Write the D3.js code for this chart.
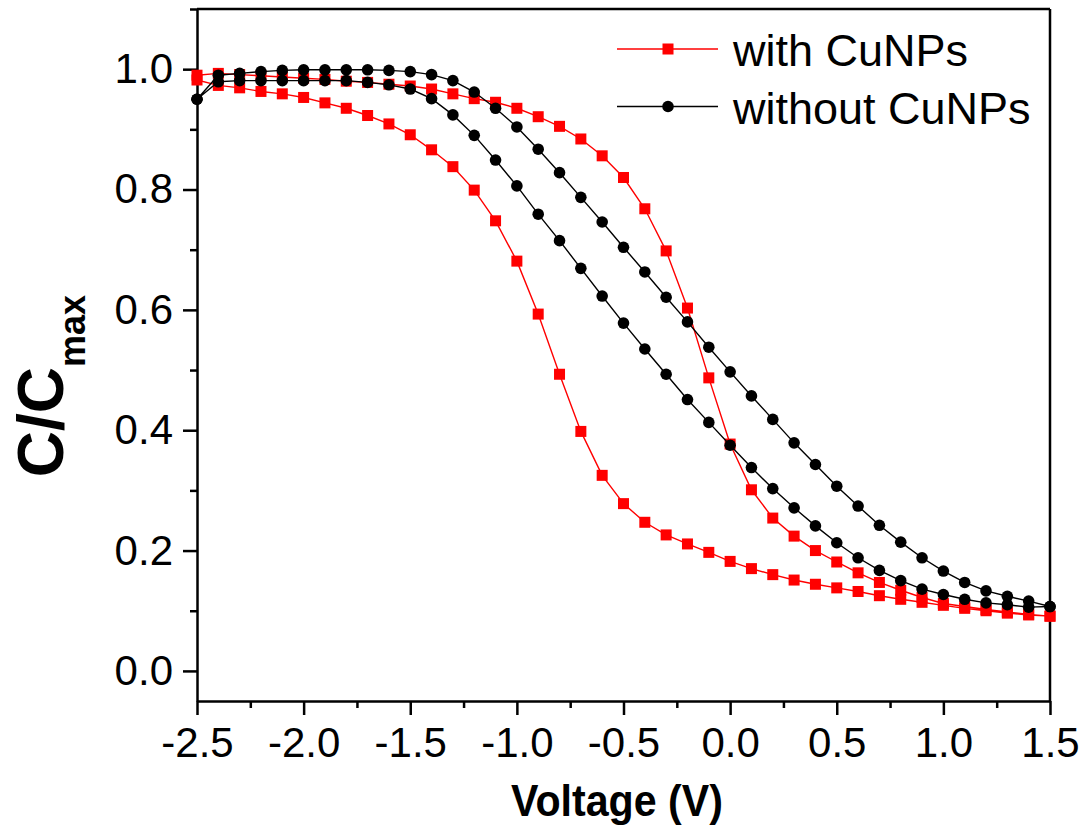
<!DOCTYPE html>
<html lang="en">

<head>
    <meta charset="UTF-8">
    <title>C/Cmax vs Voltage</title>
    <style>
        body { margin: 0; background: #fff; }
        svg text { font-family: "Liberation Sans", Arial, sans-serif; }
    </style>
</head>

<body>
    <svg width="1090" height="833"></svg>

    <script src="https://d3js.org/d3.v7.min.js"></script>

    <script>
        // voltage steps, -2.5 .. 1.5 in 0.1 V
        const voltages = [-2.5, -2.4, -2.3, -2.2, -2.1, -2.0, -1.9, -1.8, -1.7, -1.6, -1.5, -1.4, -1.3, -1.2, -1.1,
            -1.0, -0.9, -0.8, -0.7, -0.6, -0.5, -0.4, -0.3, -0.2, -0.1, 0.0, 0.1, 0.2, 0.3, 0.4, 0.5,
            0.6, 0.7, 0.8, 0.9, 1.0, 1.1, 1.2, 1.3, 1.4, 1.5];

        // with CuNPs: upper/right branch and lower/left branch of the loop
        const withUpper = [0.990, 0.993, 0.991, 0.989, 0.987, 0.985, 0.983, 0.980, 0.978, 0.975, 0.972, 0.967, 0.959, 0.951, 0.945,
            0.935, 0.921, 0.905, 0.884, 0.856, 0.820, 0.768, 0.698, 0.603, 0.487, 0.377, 0.301, 0.254, 0.224, 0.200, 0.181,
            0.163, 0.147, 0.134, 0.122, 0.112, 0.107, 0.102, 0.098, 0.094, 0.091];
        const withLower = [0.982, 0.973, 0.969, 0.963, 0.959, 0.953, 0.944, 0.935, 0.923, 0.909, 0.891, 0.866, 0.838, 0.799, 0.748,
            0.681, 0.593, 0.493, 0.398, 0.325, 0.278, 0.247, 0.226, 0.211, 0.197, 0.182, 0.170, 0.160, 0.151, 0.144, 0.138,
            0.132, 0.125, 0.119, 0.114, 0.109, 0.104, 0.100, 0.096, 0.093, 0.091];

        // without CuNPs
        const withoutUpper = [0.950, 0.990, 0.993, 0.996, 0.998, 0.999, 0.999, 0.999, 0.999, 0.998, 0.996, 0.991, 0.981, 0.962, 0.935,
            0.904, 0.867, 0.828, 0.787, 0.746, 0.704, 0.663, 0.621, 0.580, 0.538, 0.497, 0.457, 0.418, 0.379, 0.343, 0.307,
            0.274, 0.242, 0.214, 0.188, 0.166, 0.147, 0.133, 0.124, 0.116, 0.107];
        const withoutLower = [0.950, 0.979, 0.981, 0.981, 0.981, 0.981, 0.981, 0.981, 0.978, 0.974, 0.967, 0.951, 0.924, 0.890, 0.849,
            0.806, 0.759, 0.715, 0.669, 0.623, 0.578, 0.535, 0.493, 0.451, 0.413, 0.375, 0.338, 0.303, 0.271, 0.241, 0.213,
            0.188, 0.167, 0.150, 0.136, 0.127, 0.119, 0.113, 0.110, 0.106, 0.107];

        const xMajor = [-2.5, -2.0, -1.5, -1.0, -0.5, 0.0, 0.5, 1.0, 1.5];
        const xMinor = [-2.25, -1.75, -1.25, -0.75, -0.25, 0.25, 0.75, 1.25];
        const yMajor = [0.0, 0.2, 0.4, 0.6, 0.8, 1.0];
        const yMinor = [0.1, 0.3, 0.5, 0.7, 0.9, 1.1];

        const legendLabels = ["with CuNPs", "without CuNPs"];

        const svg = d3.select("svg");
        const plotLeft = 197, plotRight = 1050, plotTop = 9, plotBottom = 701;

        const x = d3.scaleLinear().domain([-2.5, 1.5]).range([plotLeft, plotRight]);
        const y = d3.scaleLinear().domain([-0.05, 1.1]).range([plotBottom, plotTop]);

        // loop = upper branch out, lower branch back
        function loop(upper, lower) {
            const out = voltages.map((v, i) => ({ v, c: upper[i] }));
            const back = voltages.map((v, i) => ({ v, c: lower[i] })).reverse();
            return out.concat(back);
        }

        const series = [
            { name: legendLabels[0], color: "#ff0000", shape: "square", data: loop(withUpper, withLower) },
            { name: legendLabels[1], color: "#000000", shape: "circle", data: loop(withoutUpper, withoutLower) }
        ];

        // frame top/right
        svg.append("line").attr("x1", plotLeft).attr("x2", plotRight).attr("y1", plotTop).attr("y2", plotTop)
            .attr("stroke", "#000").attr("stroke-width", 2.5);
        svg.append("line").attr("x1", plotRight).attr("x2", plotRight).attr("y1", plotTop).attr("y2", plotBottom)
            .attr("stroke", "#000").attr("stroke-width", 2.5);

        // minor ticks
        svg.append("g")
            .attr("transform", `translate(0,${plotBottom})`)
            .call(d3.axisBottom(x).tickValues(xMinor).tickSize(7).tickFormat(""))
            .call(g => g.select(".domain").remove())
            .selectAll("line").attr("stroke-width", 2.5);
        svg.append("g")
            .attr("transform", `translate(${plotLeft},0)`)
            .call(d3.axisLeft(y).tickValues(yMinor).tickSize(7).tickFormat(""))
            .call(g => g.select(".domain").remove())
            .selectAll("line").attr("stroke-width", 2.5);

        // major axes
        const xAxis = svg.append("g")
            .attr("transform", `translate(0,${plotBottom})`)
            .call(d3.axisBottom(x).tickValues(xMajor).tickSize(14).tickSizeOuter(0).tickPadding(12));
        const yAxis = svg.append("g")
            .attr("transform", `translate(${plotLeft},0)`)
            .call(d3.axisLeft(y).tickValues(yMajor).tickSize(14).tickSizeOuter(0).tickPadding(10));

        [xAxis, yAxis].forEach(ax => {
            ax.select(".domain").attr("stroke-width", 2.5);
            ax.selectAll(".tick line").attr("stroke-width", 2.5);
            ax.selectAll("text")
                .attr("font-size", 42)
                .attr("font-family", "'Liberation Sans', Arial, sans-serif")
                .attr("fill", "#000")
                .text(d => d.toFixed(1));
        });

        // series
        const line = d3.line().x(d => x(d.v)).y(d => y(d.c));
        const sq = 11, rad = 5.8;

        series.forEach(s => {
            const g = svg.append("g");
            g.append("path")
                .datum(s.data)
                .attr("fill", "none")
                .attr("stroke", s.color)
                .attr("stroke-width", 1.4)
                .attr("d", line);
            if (s.shape === "square") {
                g.selectAll("rect").data(s.data).join("rect")
                    .attr("x", d => x(d.v) - sq / 2)
                    .attr("y", d => y(d.c) - sq / 2)
                    .attr("width", sq).attr("height", sq)
                    .attr("fill", s.color);
            } else {
                g.selectAll("circle").data(s.data).join("circle")
                    .attr("cx", d => x(d.v))
                    .attr("cy", d => y(d.c))
                    .attr("r", rad)
                    .attr("fill", s.color);
            }
        });

        // legend
        const legend = svg.append("g");
        series.forEach((s, i) => {
            const ly = 49 + i * 57.5;
            legend.append("line")
                .attr("x1", 617).attr("x2", 718).attr("y1", ly).attr("y2", ly)
                .attr("stroke", s.color).attr("stroke-width", 1.4);
            if (s.shape === "square") {
                legend.append("rect").attr("x", 668 - sq / 2).attr("y", ly - sq / 2)
                    .attr("width", sq).attr("height", sq).attr("fill", s.color);
            } else {
                legend.append("circle").attr("cx", 668).attr("cy", ly).attr("r", rad).attr("fill", s.color);
            }
            legend.append("text")
                .attr("x", 733).attr("y", ly + 17)
                .attr("font-size", 45)
                .text(s.name);
        });

        // axis titles
        svg.append("text")
            .attr("x", 617).attr("y", 816)
            .attr("text-anchor", "middle")
            .attr("font-size", 44)
            .attr("font-weight", "bold")
            .attr("textLength", 212)
            .attr("lengthAdjust", "spacingAndGlyphs")
            .text("Voltage (V)");

        const yt = svg.append("text")
            .attr("transform", "translate(63,386) rotate(-90)")
            .attr("text-anchor", "middle")
            .attr("font-weight", "bold");
        yt.append("tspan").attr("font-size", 64).text("C/C");
        yt.append("tspan").attr("font-size", 36).attr("dy", 22).text("max");
    </script>
</body>

</html>
